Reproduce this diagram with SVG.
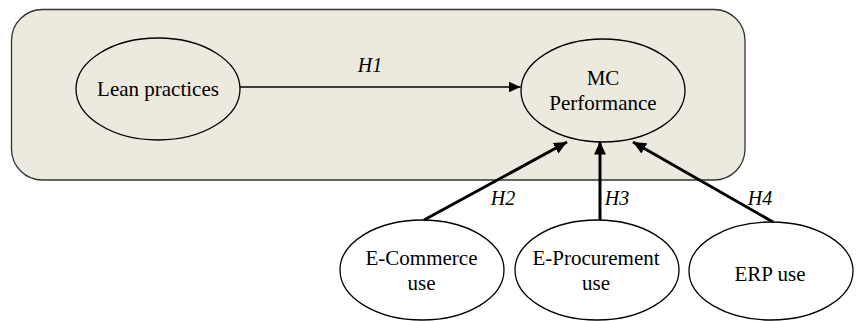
<svg xmlns="http://www.w3.org/2000/svg" width="859" height="321" viewBox="0 0 859 321">
<style>
.node{fill:#ECE9DF;stroke:#000;stroke-width:1.3}
.out{fill:#fff;stroke:#000;stroke-width:1.3}
text{font-family:'Liberation Serif', 'Times New Roman', Times, serif;fill:#000;text-anchor:middle}
.t{font-size:21px}
.h{font-size:20px;font-style:italic}
.thin{stroke:#000;stroke-width:1.3;fill:none}
.thick{stroke:#000;stroke-width:3;fill:none}
</style>
<defs>
<marker id="a1" viewBox="0 0 12 12" refX="12" refY="6" markerWidth="12" markerHeight="12" markerUnits="userSpaceOnUse" orient="auto">
<path d="M0,0.5 L12,6 L0,11.5 Z" fill="#000"/>
</marker>
<marker id="a2" viewBox="0 0 12 12" refX="12" refY="6" markerWidth="13" markerHeight="13" markerUnits="userSpaceOnUse" orient="auto">
<path d="M0,0.5 L12,6 L0,11.5 Z" fill="#000"/>
</marker>
</defs>
<rect id="context" x="11.5" y="9.5" width="733.5" height="170.5" rx="31" ry="31" fill="#ECE9DF" stroke="#333" stroke-width="1.3"/>
<g id="lean">
<ellipse class="node" cx="158" cy="89" rx="82" ry="51"/>
<text class="t" x="158" y="96" font-family="Liberation Serif">Lean practices</text>
</g>
<g id="mc">
<ellipse class="node" cx="603" cy="90.5" rx="82" ry="51.5"/>
<text class="t" x="603" y="85" font-family="Liberation Serif">MC</text>
<text class="t" x="603" y="110" font-family="Liberation Serif">Performance</text>
</g>
<g id="ecommerce">
<ellipse class="out" cx="422" cy="270" rx="82" ry="50"/>
<text class="t" x="421.5" y="265" font-family="Liberation Serif">E-Commerce</text>
<text class="t" x="421.5" y="290" font-family="Liberation Serif">use</text>
</g>
<g id="eprocurement">
<ellipse class="out" cx="597" cy="270" rx="82" ry="50"/>
<text class="t" x="596" y="265" font-family="Liberation Serif">E-Procurement</text>
<text class="t" x="596" y="290" font-family="Liberation Serif">use</text>
</g>
<g id="erp">
<ellipse class="out" cx="771" cy="271" rx="82" ry="49"/>
<text class="t" x="770" y="281" font-family="Liberation Serif">ERP use</text>
</g>
<g id="connectors">
<line class="thin" x1="240" y1="87" x2="520.5" y2="87" marker-end="url(#a1)"/>
<line class="thick" x1="424" y1="220" x2="567" y2="142" marker-end="url(#a2)"/>
<line class="thick" x1="600" y1="220" x2="600" y2="141.5" marker-end="url(#a2)"/>
<line class="thick" x1="773" y1="222" x2="633" y2="142" marker-end="url(#a2)"/>
<text class="h" x="370" y="72" font-family="Liberation Serif">H1</text>
<text class="h" x="503" y="205" font-family="Liberation Serif">H2</text>
<text class="h" x="617" y="205" font-family="Liberation Serif">H3</text>
<text class="h" x="760" y="205" font-family="Liberation Serif">H4</text>
</g>
</svg>
